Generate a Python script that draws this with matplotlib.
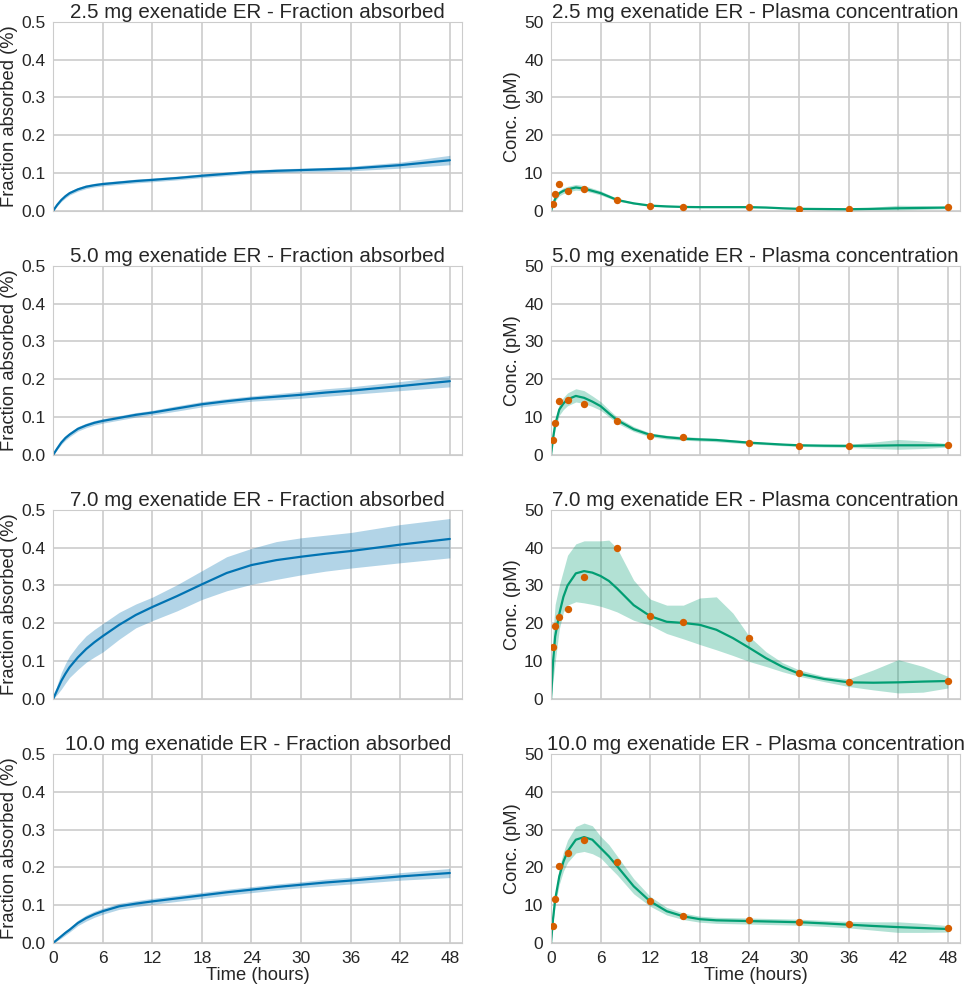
import matplotlib
matplotlib.use("Agg")
import matplotlib.pyplot as plt
import seaborn as sns

sns.set_style("whitegrid")
plt.rcParams['font.family'] = ['Liberation Sans', 'DejaVu Sans']

doses = ["2.5", "5.0", "7.0", "10.0"]

# fraction absorbed (left column)
t_fa = [0, 0.5, 1, 1.5, 2, 3, 4, 5, 6, 8, 10, 12, 15, 18, 21, 24, 27, 30, 33, 36, 42, 48]

fa_mean = {
    "2.5": [0, 0.016, 0.029, 0.039, 0.047, 0.057, 0.064, 0.068, 0.071, 0.075, 0.079, 0.082, 0.087, 0.093, 0.098, 0.103, 0.106, 0.108, 0.110, 0.112, 0.121, 0.134],
    "5.0": [0, 0.017, 0.033, 0.045, 0.054, 0.069, 0.078, 0.085, 0.090, 0.098, 0.106, 0.112, 0.123, 0.134, 0.142, 0.149, 0.154, 0.159, 0.165, 0.170, 0.182, 0.195],
    "7.0": [0, 0.024, 0.048, 0.067, 0.084, 0.110, 0.132, 0.150, 0.166, 0.196, 0.222, 0.243, 0.272, 0.303, 0.333, 0.354, 0.367, 0.376, 0.384, 0.391, 0.408, 0.423],
    "10.0": [0, 0.009, 0.018, 0.027, 0.035, 0.053, 0.066, 0.076, 0.084, 0.097, 0.104, 0.110, 0.118, 0.126, 0.134, 0.141, 0.148, 0.154, 0.160, 0.165, 0.176, 0.185],
}
fa_lo = {
    "2.5": [0, 0.013, 0.025, 0.034, 0.042, 0.052, 0.059, 0.063, 0.066, 0.070, 0.074, 0.077, 0.082, 0.088, 0.093, 0.098, 0.101, 0.103, 0.104, 0.106, 0.113, 0.122],
    "5.0": [0, 0.014, 0.028, 0.039, 0.048, 0.063, 0.072, 0.079, 0.084, 0.092, 0.100, 0.106, 0.116, 0.127, 0.135, 0.142, 0.146, 0.150, 0.155, 0.160, 0.170, 0.180],
    "7.0": [0, 0.012, 0.026, 0.042, 0.057, 0.078, 0.097, 0.111, 0.124, 0.158, 0.188, 0.207, 0.233, 0.263, 0.286, 0.303, 0.316, 0.328, 0.338, 0.346, 0.360, 0.373],
    "10.0": [0, 0.006, 0.013, 0.021, 0.029, 0.046, 0.058, 0.068, 0.076, 0.089, 0.096, 0.102, 0.110, 0.118, 0.126, 0.133, 0.140, 0.146, 0.151, 0.156, 0.166, 0.173],
}
fa_hi = {
    "2.5": [0, 0.019, 0.033, 0.044, 0.052, 0.062, 0.069, 0.073, 0.076, 0.080, 0.084, 0.087, 0.092, 0.098, 0.103, 0.108, 0.111, 0.113, 0.115, 0.118, 0.129, 0.147],
    "5.0": [0, 0.020, 0.038, 0.051, 0.060, 0.075, 0.084, 0.091, 0.096, 0.104, 0.112, 0.118, 0.130, 0.141, 0.149, 0.156, 0.162, 0.168, 0.175, 0.180, 0.194, 0.210],
    "7.0": [0, 0.038, 0.070, 0.094, 0.114, 0.143, 0.167, 0.184, 0.199, 0.229, 0.251, 0.269, 0.302, 0.339, 0.376, 0.398, 0.416, 0.426, 0.433, 0.440, 0.461, 0.477],
    "10.0": [0, 0.012, 0.023, 0.033, 0.041, 0.060, 0.074, 0.084, 0.092, 0.105, 0.112, 0.118, 0.126, 0.134, 0.142, 0.149, 0.156, 0.162, 0.169, 0.174, 0.186, 0.197],
}

# plasma concentration (right column)
t_pk = [0, 0.25, 0.5, 1, 1.5, 2, 3, 4, 5, 6, 7, 8, 10, 12, 14, 16, 18, 20, 22, 24, 26, 28, 30, 33, 36, 39, 42, 45, 48]

pk_mean = {
    "2.5": [0, 1.8, 3.2, 4.7, 5.3, 5.7, 6.2, 5.9, 5.3, 4.7, 3.8, 2.9, 2.0, 1.4, 1.2, 1.05, 1.0, 1.0, 1.0, 1.0, 0.9, 0.7, 0.55, 0.5, 0.45, 0.55, 0.7, 0.8, 0.9],
    "5.0": [0, 4.5, 8.0, 12.0, 13.6, 14.7, 15.6, 15.1, 14.1, 12.9, 11.0, 9.2, 6.8, 5.3, 4.7, 4.3, 4.1, 3.95, 3.6, 3.25, 3.0, 2.75, 2.55, 2.45, 2.4, 2.45, 2.55, 2.55, 2.55],
    "7.0": [0, 10.0, 16.5, 22.5, 27.0, 30.0, 33.2, 33.8, 33.4, 32.5, 31.2, 29.2, 24.8, 21.9, 20.4, 20.1, 19.6, 18.3, 16.1, 13.5, 10.8, 8.5, 6.7, 5.3, 4.4, 4.3, 4.4, 4.6, 4.75],
    "10.0": [0, 6.5, 11.5, 17.6, 21.5, 24.2, 27.3, 28.0, 27.3, 25.1, 22.9, 20.3, 15.0, 11.0, 8.4, 7.05, 6.3, 6.0, 5.9, 5.8, 5.7, 5.6, 5.5, 5.2, 4.85, 4.5, 4.2, 3.95, 3.7],
}
pk_lo = {
    "2.5": [0, 1.4, 2.6, 4.0, 4.6, 5.0, 5.5, 5.3, 4.8, 4.2, 3.4, 2.6, 1.8, 1.2, 1.0, 0.9, 0.85, 0.85, 0.85, 0.85, 0.75, 0.55, 0.4, 0.35, 0.3, 0.3, 0.3, 0.4, 0.6],
    "5.0": [0, 3.6, 6.8, 10.5, 12.0, 13.0, 14.0, 13.6, 12.8, 11.8, 10.1, 8.4, 6.2, 4.8, 4.2, 3.9, 3.7, 3.5, 3.2, 2.9, 2.7, 2.45, 2.25, 2.1, 2.0, 1.7, 1.5, 1.7, 2.1],
    "7.0": [0, 5.0, 9.7, 18.5, 23.0, 24.8, 25.7, 25.4, 25.0, 24.5, 23.8, 23.0, 20.8, 19.5, 17.3, 15.9, 14.4, 13.0, 11.5, 9.9, 8.6, 7.2, 6.0, 4.6, 3.3, 2.4, 1.6, 1.8, 2.9],
    "10.0": [0, 5.5, 10.0, 15.5, 19.0, 21.3, 23.8, 24.2, 23.6, 22.5, 20.2, 18.0, 13.0, 9.7, 7.4, 6.2, 5.5, 5.2, 5.1, 5.0, 4.9, 4.8, 4.7, 4.4, 4.0, 3.4, 2.8, 2.8, 2.9],
}
pk_hi = {
    "2.5": [0, 2.2, 3.8, 5.4, 6.1, 6.5, 7.0, 6.7, 6.0, 5.3, 4.3, 3.3, 2.3, 1.6, 1.4, 1.2, 1.15, 1.15, 1.15, 1.15, 1.05, 0.85, 0.7, 0.65, 0.6, 1.0, 1.5, 1.4, 1.2],
    "5.0": [0, 5.4, 9.2, 13.5, 15.2, 16.4, 17.5, 17.0, 15.6, 14.1, 12.0, 10.0, 7.5, 5.8, 5.2, 4.9, 4.6, 4.4, 4.0, 3.6, 3.3, 3.05, 2.85, 2.8, 2.8, 3.4, 4.1, 3.7, 3.0],
    "7.0": [0, 18.0, 25.0, 30.0, 34.0, 38.0, 41.0, 41.8, 41.8, 41.8, 42.0, 39.8, 31.4, 26.4, 24.8, 24.8, 26.7, 27.0, 22.7, 16.5, 12.5, 9.6, 7.7, 6.0, 5.3, 7.7, 10.4, 8.6, 6.0],
    "10.0": [0, 7.5, 13.0, 19.8, 24.0, 27.2, 30.8, 31.7, 31.0, 28.2, 26.0, 23.0, 17.0, 12.3, 9.4, 7.9, 7.1, 6.8, 6.7, 6.6, 6.5, 6.4, 6.3, 6.0, 5.7, 5.6, 5.6, 5.2, 4.6],
}

# observed data points
t_obs = [0.25, 0.5, 1, 2, 4, 8, 12, 16, 24, 30, 36, 48]
obs = {
    "2.5": [1.8, 4.5, 7.1, 5.2, 5.7, 2.8, 1.3, 1.0, 1.0, 0.45, 0.45, 1.0],
    "5.0": [3.9, 8.35, 14.3, 14.6, 13.4, 8.9, 5.1, 4.75, 3.25, 2.4, 2.4, 2.6],
    "7.0": [13.7, 19.2, 21.7, 23.9, 32.2, 39.9, 22.0, 20.3, 16.0, 6.8, 4.4, 4.8],
    "10.0": [4.6, 11.6, 20.3, 23.9, 27.2, 21.3, 11.0, 7.05, 6.0, 5.5, 4.9, 3.9],
}

blue = "#0173b2"
green = "#029e73"
orange = "#d55e00"

fig, axes = plt.subplots(4, 2, figsize=(9.65, 9.89), dpi=100)
fig.subplots_adjust(left=0.055, right=0.995, top=0.978, bottom=0.0465,
                    hspace=0.29, wspace=0.217)

for i, d in enumerate(doses):
    ax = axes[i, 0]
    ax.fill_between(t_fa, fa_lo[d], fa_hi[d], color=blue, alpha=0.3, lw=0)
    ax.plot(t_fa, fa_mean[d], color=blue, lw=1.6)
    ax.set_xlim(0, 49.5)
    ax.set_ylim(0, 0.5)
    ax.set_xticks(range(0, 49, 6))
    ax.set_yticks([0, 0.1, 0.2, 0.3, 0.4, 0.5])
    ax.set_title(f"{d} mg exenatide ER - Fraction absorbed", fontsize=14.8, pad=3)
    ax.set_ylabel("Fraction absorbed (%)", fontsize=13.2, labelpad=2)

    ax2 = axes[i, 1]
    ax2.fill_between(t_pk, pk_lo[d], pk_hi[d], color=green, alpha=0.3, lw=0)
    ax2.plot(t_pk, pk_mean[d], color=green, lw=1.6)
    ax2.scatter(t_obs, obs[d], color=orange, s=28, zorder=3, lw=0)
    ax2.set_xlim(0, 49.5)
    ax2.set_ylim(0, 50)
    ax2.set_xticks(range(0, 49, 6))
    ax2.set_yticks(range(0, 51, 10))
    ax2.set_title(f"{d} mg exenatide ER - Plasma concentration", fontsize=14.8, pad=3)
    ax2.set_ylabel("Conc. (pM)", fontsize=13.2, labelpad=2)

    for a in (ax, ax2):
        a.tick_params(labelsize=12.5, pad=2)
        a.grid(lw=1.2)
        if i < 3:
            a.set_xticklabels([])
        else:
            a.set_xlabel("Time (hours)", fontsize=13.2, labelpad=1)

plt.savefig("out.png", dpi=100)
